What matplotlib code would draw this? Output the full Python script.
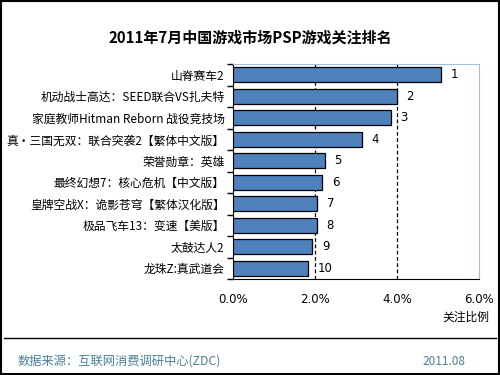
import numpy as np
import matplotlib.pyplot as plt
from matplotlib.ticker import FixedLocator

plt.rcParams['font.family'] = ['Noto Sans CJK SC', 'DejaVu Sans']

games = ["山脊赛车2", "机动战士高达：SEED联合VS扎夫特", "家庭教师Hitman Reborn 战役竞技场",
         "真·三国无双：联合突袭2【繁体中文版】", "荣誉勋章：英雄", "最终幻想7：核心危机【中文版】",
         "皇牌空战X：诡影苍穹【繁体汉化版】", "极品飞车13：变速【美版】", "太鼓达人2", "龙珠Z:真武道会"]
share = [5.08, 3.99, 3.85, 3.14, 2.24, 2.18, 2.06, 2.04, 1.93, 1.84]
ranks = ["1", "2", "3", "4", "5", "6", "7", "8", "9", "10"]
xticks = [0, 2, 4, 6]

fig = plt.figure(figsize=(5, 3.75), dpi=100)
ax = fig.add_axes([0.466, 0.256, 0.492, 0.573])

y = np.arange(len(games))[::-1]
ax.barh(y, share, height=0.7, color="#4f81bd", edgecolor="black", linewidth=0.9, zorder=3)
for yi, v, r in zip(y, share, ranks):
    ax.annotate(r, (v, yi), xytext=(7, 0), textcoords="offset points",
                va="center", ha="left", fontsize=8.5, color="black", family="DejaVu Sans")

ax.set_xlim(0, 6)
ax.set_ylim(-0.5, len(games) - 0.5)
ax.set_xticks(xticks)
ax.set_xticklabels([f"{t:.1f}%" for t in xticks], fontsize=8.5, family="DejaVu Sans")
ax.tick_params(axis="x", length=0, pad=10)
ax.set_yticks(y)
ax.set_yticklabels(games, fontsize=8.5)
ax.tick_params(axis="y", length=0, pad=6)
ax.yaxis.set_minor_locator(FixedLocator(np.arange(-0.5, len(games), 1.0)))
ax.tick_params(axis="y", which="minor", length=4, direction="out", width=1)
for gx in [2, 4]:
    ax.axvline(gx, color="black", linestyle=(0, (3, 2)), linewidth=0.9, zorder=2)

ax.spines["left"].set_color("black")
ax.spines["bottom"].set_color("black")
ax.spines["top"].set_color("#a8bde0")
ax.spines["right"].set_color("#a8bde0")

fig.text(0.5, 0.9, "2011年7月中国游戏市场PSP游戏关注排名", ha="center", va="center",
         fontsize=10.8, fontweight="bold")
fig.text(0.978, 0.155, "关注比例", ha="right", va="center", fontsize=8.5)

fig.add_artist(plt.Line2D([0.008, 0.992], [0.099, 0.099], color="black", linewidth=1))
fig.text(0.035, 0.037, "数据来源：互联网消费调研中心(ZDC)", ha="left", va="center",
         fontsize=8.8, color="#4a7e9a")
fig.text(0.93, 0.037, "2011.08", ha="right", va="center", fontsize=8.5, color="#4a7e9a")

fig.add_artist(plt.Rectangle((0.002, 0.003), 0.995, 0.994, fill=False,
                             edgecolor="black", linewidth=1.5, transform=fig.transFigure))

fig.savefig("out.png", dpi=100)
